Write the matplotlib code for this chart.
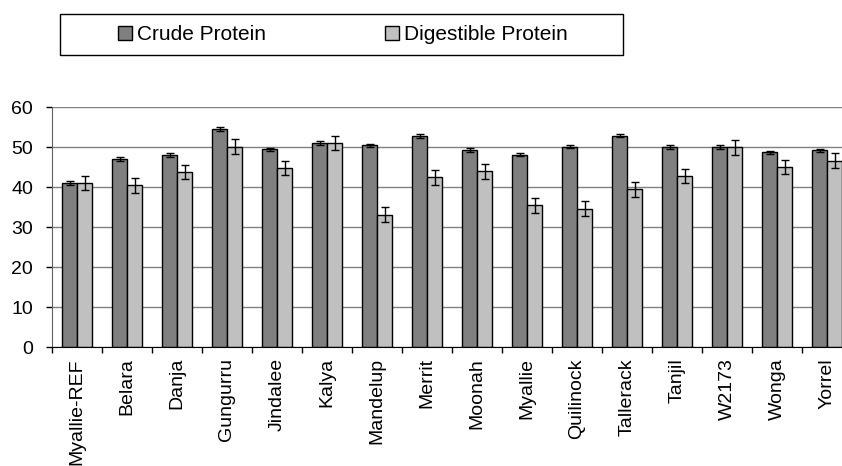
import matplotlib.pyplot as plt
import numpy as np
from matplotlib.patches import Patch, Rectangle

plt.rcParams['font.family'] = ['Liberation Sans', 'DejaVu Sans']

varieties = ['Myallie-REF', 'Belara', 'Danja', 'Gungurru', 'Jindalee', 'Kalya',
             'Mandelup', 'Merrit', 'Moonah', 'Myallie', 'Quilinock', 'Tallerack',
             'Tanjil', 'W2173', 'Wonga', 'Yorrel']
crude = [40.9, 47.1, 48.1, 54.6, 49.4, 51.0, 50.4, 52.8, 49.2, 48.1, 50.1,
         52.8, 49.9, 49.9, 48.7, 49.2]
crude_err = [0.5, 0.5, 0.5, 0.5, 0.4, 0.4, 0.4, 0.5, 0.5, 0.4, 0.4, 0.4,
             0.5, 0.5, 0.4, 0.4]
digestible = [41.0, 40.4, 43.7, 50.1, 44.8, 51.0, 33.1, 42.4, 43.9, 35.4, 34.6,
              39.4, 42.8, 49.9, 45.0, 46.6]
dig_err = [1.8, 1.8, 1.8, 1.9, 1.8, 1.8, 1.8, 1.8, 1.8, 1.8, 1.8, 1.8,
           1.8, 1.8, 1.8, 1.8]

W, H = 842, 466
fig = plt.figure(figsize=(W / 100, H / 100), dpi=100)
ax = fig.add_axes([52 / W, 1 - 347 / H, 800 / W, 240 / H])

x = np.arange(len(varieties))
bw = 0.3
ekw = dict(ecolor='black', elinewidth=1, capsize=3, capthick=1)
ax.bar(x + 0.2, crude, bw, align='edge', color='#808080', edgecolor='black',
       linewidth=1, zorder=2)
ax.bar(x + 0.5, digestible, bw, align='edge', color='#c0c0c0', edgecolor='black',
       linewidth=1, zorder=2)
ax.errorbar(x + 0.35, crude, yerr=crude_err, fmt='none', zorder=3, **ekw)
ax.errorbar(x + 0.65, digestible, yerr=dig_err, fmt='none', zorder=3, **ekw)

ax.set_xlim(0, len(varieties))
ax.set_ylim(0, 60)
ax.set_yticks(range(0, 61, 10))
ax.yaxis.grid(True, color='#808080', linewidth=1, zorder=0)
ax.set_axisbelow(True)

ax.set_xticks(np.arange(len(varieties) + 1))
ax.set_xticklabels([])
ax.set_xticks(x + 0.5, minor=True)
ax.set_xticklabels(varieties, minor=True, rotation=90, fontsize=14)
ax.tick_params(axis='x', which='major', length=4.5, width=1, direction='out')
ax.tick_params(axis='x', which='minor', length=0, pad=8)
ax.tick_params(axis='y', labelsize=14, length=4.5, width=1, pad=9)

for s in ['top', 'right']:
    ax.spines[s].set_visible(False)
ax.spines['left'].set_color('#606060')
ax.spines['bottom'].set_color('black')

# legend box drawn separately, entries centred in it
fig.add_artist(Rectangle((60 / W, 1 - 55 / H), 563 / W, 41 / H,
                         transform=fig.transFigure, fill=False,
                         edgecolor='black', linewidth=1))
handles = [Patch(facecolor='#808080', edgecolor='black', label='Crude Protein'),
           Patch(facecolor='#c0c0c0', edgecolor='black', label='Digestible Protein')]
fig.legend(handles=handles, loc='center', ncol=2,
           bbox_to_anchor=(343 / W, 1 - 34.5 / H),
           fontsize=15, frameon=False, borderaxespad=0, borderpad=0,
           handlelength=0.67, handleheight=0.67, handletextpad=0.25,
           columnspacing=5.7)

fig.savefig('out.png', dpi=100)
